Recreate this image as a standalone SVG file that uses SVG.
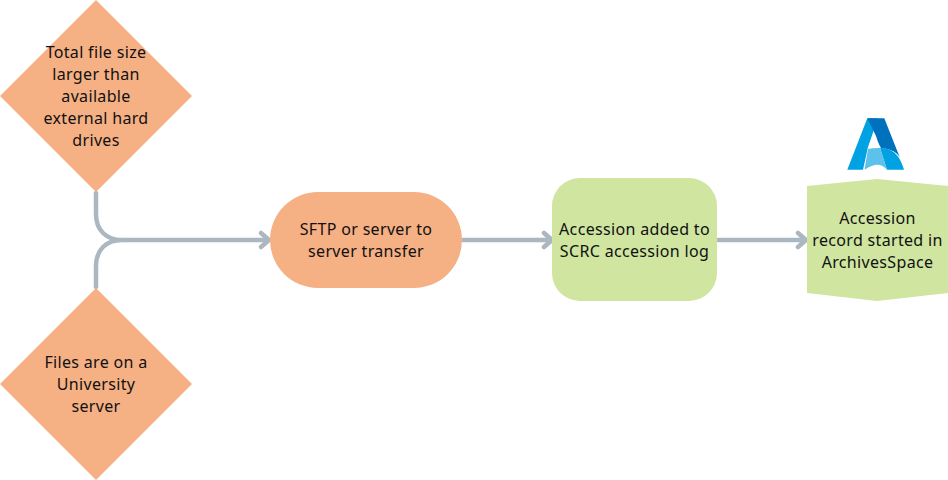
<svg xmlns="http://www.w3.org/2000/svg" width="948" height="480" viewBox="0 0 948 480">
<style>
.o{fill:#f5b084}.g{fill:#cfe5a0}
.c{fill:none;stroke:#abb8c1;stroke-width:4.5;stroke-linecap:round;stroke-linejoin:round}
text{font-family:"Noto Sans","Open Sans",sans-serif;font-size:16px;letter-spacing:.33px;fill:#111;text-anchor:middle}
</style>
<rect width="948" height="480" fill="#fff"/>
<g id="connectors">
<path class="c" d="M96 193V214C96 230 106 240 122 240H268M96 287V266C96 250 106 240 122 240"/>
<path class="c" d="M261 233L269 240L261 247"/>
<path class="c" d="M463 240H550M544 233L552 240L544 247"/>
<path class="c" d="M718 240H805M798 233L806 240L798 247"/>
</g>
<g id="n1"><polygon class="o" points="96,0 192,96 96,192 0,96"/>
<text x="96" y="58">Total file size</text><text x="96" y="80">larger than</text><text x="96" y="102">available</text><text x="96" y="124">external hard</text><text x="96" y="146">drives</text></g>
<g id="n2"><polygon class="o" points="96,288 192,384 96,480 0,384"/>
<text x="96" y="368">Files are on a</text><text x="96" y="390">University</text><text x="96" y="412">server</text></g>
<g id="n3"><rect class="o" x="270" y="192" width="192" height="96" rx="48"/>
<text x="366" y="235">SFTP or server to</text><text x="366" y="257">server transfer</text></g>
<g id="n4"><rect class="g" x="552" y="178" width="165" height="123" rx="28"/>
<text x="634.500" y="235">Accession added to</text><text x="634.500" y="257">SCRC accession log</text></g>
<g id="n5"><polygon class="g" points="807,186 877,179 948,186 948,293 877,301 807,293"/>
<text x="877.500" y="224">Accession</text><text x="877.500" y="246">record started in</text><text x="877.500" y="268">ArchivesSpace</text></g>
<g id="logo">
<polygon fill="#00a2e3" points="867.300,118.300 878,118.300 868,147 863,169.700 847.300,169.700"/>
<path fill="#0071bd" d="M867.300,118.300H884.300L900,158C896,150 888,149 880,148L876,136Z"/>
<path fill="#00a2e3" d="M880,148C891,148 899,153 904,169.700H887Z"/>
<path fill="#5cc2ec" d="M868,149C871,148 878,148 880,148L887,169.700C881,163 875,163 864.500,169.700Z"/>
<polygon fill="#fff" points="875.500,138 881,148 871,148"/>
</g>
</svg>
